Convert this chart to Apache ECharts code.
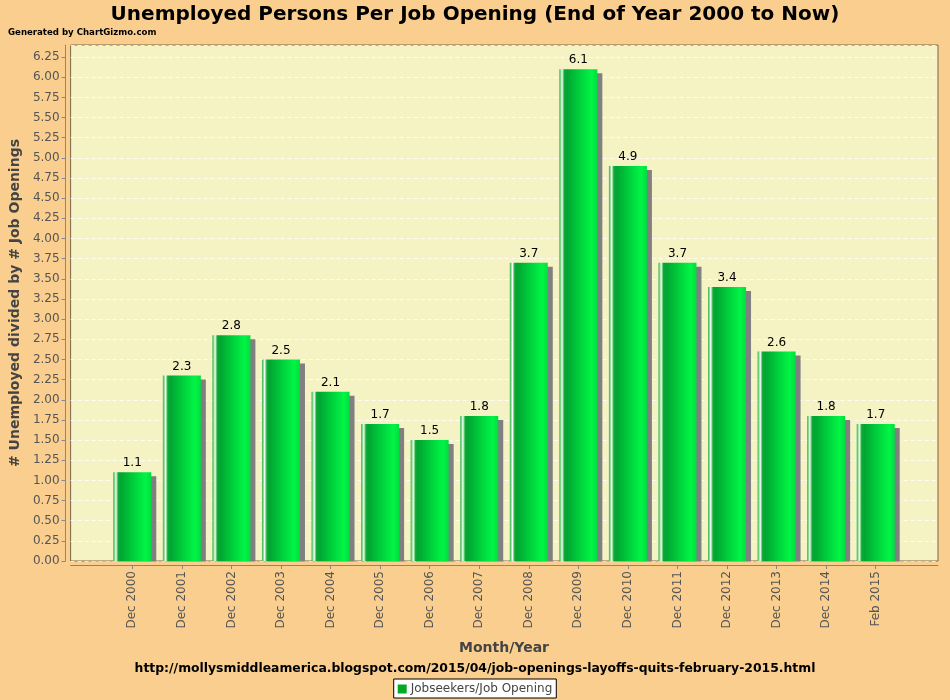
<!DOCTYPE html>
<html>
<head>
<meta charset="utf-8">
<script src="https://cdn.jsdelivr.net/npm/echarts@6/dist/echarts.min.js"></script>
<style>
  html, body { margin: 0; padding: 0; background: #F9CE8E; }
  #chart { width: 950px; height: 700px; }
</style>
</head>
<body>
<div id="chart"></div>
<script>
// 数据
let categories = ['Dec 2000', 'Dec 2001', 'Dec 2002', 'Dec 2003', 'Dec 2004', 'Dec 2005',
    'Dec 2006', 'Dec 2007', 'Dec 2008', 'Dec 2009', 'Dec 2010', 'Dec 2011',
    'Dec 2012', 'Dec 2013', 'Dec 2014', 'Feb 2015'];
let ratios = [1.1, 2.3, 2.8, 2.5, 2.1, 1.7, 1.5, 1.8, 3.7, 6.1, 4.9, 3.7, 3.4, 2.6, 1.8, 1.7];
let seriesName = 'Jobseekers/Job Opening';

let font = 'DejaVu Sans';
let yMax = 6.4;

let myChart = echarts.init(document.getElementById('chart'));

// 柱子的横向渐变（左侧高光条）
let barColor = new echarts.graphic.LinearGradient(0, 0, 1, 0, [
    {offset: 0, color: '#2cb545'},
    {offset: 0.04, color: '#8fdc98'},
    {offset: 0.07, color: '#ffffff'},
    {offset: 0.10, color: '#7fd68a'},
    {offset: 0.13, color: '#10a838'},
    {offset: 0.20, color: '#00a532'},
    {offset: 0.55, color: '#00d23c'},
    {offset: 0.85, color: '#00f545'},
    {offset: 1, color: '#00de40'}
]);

let option = {
    backgroundColor: '#F9CE8E',
    animation: false,
    textStyle: {fontFamily: font},
    title: [
        {
            text: 'Unemployed Persons Per Job Opening (End of Year 2000 to Now)',
            left: 'center',
            top: 0,
            textStyle: {fontFamily: font, fontSize: 20, fontWeight: 'bold', color: '#000'}
        },
        {
            text: 'Generated by ChartGizmo.com',
            left: 3,
            top: 23,
            textStyle: {fontFamily: font, fontSize: 8.6, fontWeight: 'bold', color: '#000'}
        },
        {
            text: 'http://mollysmiddleamerica.blogspot.com/2015/04/job-openings-layoffs-quits-february-2015.html',
            left: 'center',
            top: 658,
            textStyle: {fontFamily: font, fontSize: 12.4, fontWeight: 'bold', color: '#000'}
        }
    ],
    legend: {
        data: [{name: seriesName, itemStyle: {color: '#00aa22', shadowBlur: 0, shadowOffsetX: 0, shadowOffsetY: 0}}],
        bottom: 2,
        left: 'center',
        backgroundColor: '#fff',
        borderColor: '#000',
        borderWidth: 1,
        borderRadius: 0,
        padding: [4, 4, 3, 4],
        itemWidth: 9,
        itemHeight: 9,
        itemGap: 4,
        icon: 'rect',
        textStyle: {fontFamily: font, fontSize: 12, color: '#444', padding: [0, 0, 0, -1]}
    },
    grid: [
        {   // 绘图区外框
            left: 70, right: 12, top: 45, bottom: 139,
            show: true,
            backgroundColor: '#F5F2C4',
            borderColor: '#7a6848',
            borderWidth: 1
        },
        {   // 柱子所在区域
            left: 107.5, right: 49.5, top: 45, bottom: 139
        }
    ],
    // 遮住柱子阴影超出绘图区底部的部分（不盖住下方的 x 轴线）
    graphic: [
        {
            type: 'rect',
            z: 5,
            shape: {x: 90, y: 561.5, width: 840, height: 3.5},
            style: {fill: '#F9CE8E'}
        }
    ],
    xAxis: [
        {
            gridIndex: 0,
            type: 'value',
            min: 0, max: 1,
            offset: 4,
            z: 30,
            axisLine: {show: true, onZero: false, lineStyle: {color: '#8c8478'}},
            axisTick: {show: false},
            axisLabel: {show: false},
            splitLine: {show: false}
        },
        {
            gridIndex: 1,
            type: 'category',
            data: categories,
            offset: 4,
            z: 30,
            name: 'Month/Year',
            nameLocation: 'middle',
            nameGap: 76,
            nameTextStyle: {fontFamily: font, fontSize: 14, fontWeight: 'bold', color: '#444'},
            axisLine: {show: false, onZero: false},
            axisTick: {show: true, alignWithLabel: true, length: 4, lineStyle: {color: '#8c8478'}},
            axisLabel: {rotate: 90, fontFamily: font, fontSize: 12, color: '#555', margin: 6}
        }
    ],
    yAxis: [
        {
            gridIndex: 0,
            type: 'value',
            min: 0,
            max: yMax,
            interval: 0.25,
            offset: 5,
            name: '# Unemployed divided by # Job Openings',
            nameLocation: 'middle',
            nameRotate: 90,
            nameGap: 33,
            nameTextStyle: {fontFamily: font, fontSize: 14, fontWeight: 'bold', color: '#444'},
            axisLine: {show: true, onZero: false, lineStyle: {color: '#8088a0'}},
            axisTick: {show: true, length: 4, lineStyle: {color: '#8088a0'}},
            axisLabel: {
                fontFamily: font, fontSize: 12, color: '#555', margin: 6,
                showMaxLabel: false,
                formatter: function (v) { return v.toFixed(2); }
            },
            splitLine: {show: true, lineStyle: {color: '#ffffff', type: [4, 3], width: 1, opacity: 0.8}}
        },
        {
            gridIndex: 1,
            type: 'value',
            min: 0,
            max: yMax,
            show: false
        }
    ],
    series: [
        {
            name: seriesName,
            type: 'bar',
            xAxisIndex: 1,
            yAxisIndex: 1,
            barWidth: 38,
            data: ratios,
            itemStyle: {
                color: barColor,
                shadowColor: '#808080',
                shadowOffsetX: 5,
                shadowOffsetY: 4,
                shadowBlur: 0
            },
            label: {
                show: true,
                position: 'top',
                distance: 3,
                fontFamily: font,
                fontSize: 12,
                color: '#000',
                formatter: function (p) { return p.value.toFixed(1); }
            }
        }
    ]
};

myChart.setOption(option);
</script>
</body>
</html>
